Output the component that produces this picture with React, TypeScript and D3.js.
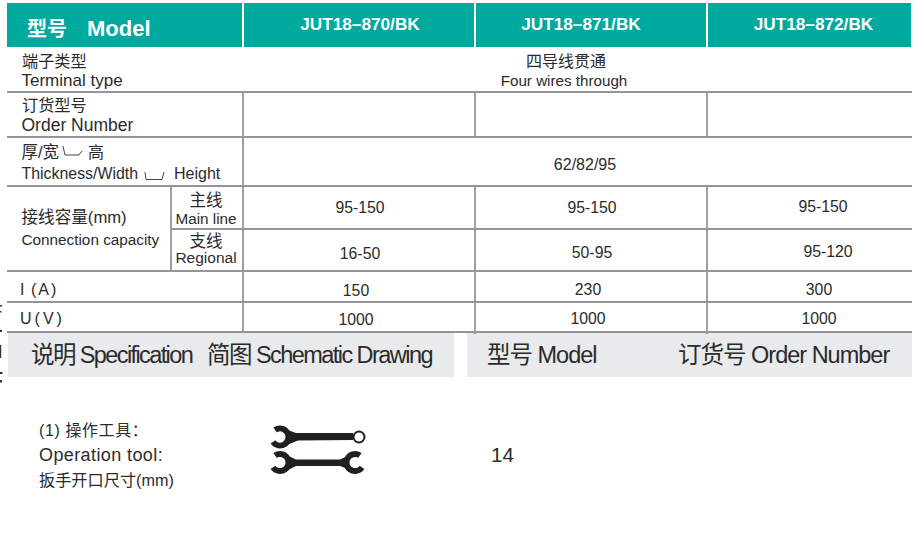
import * as d3 from 'd3'
import { useEffect, useRef } from 'react'

const TEAL = '#00a99d'
const LINE = '#949599'
const BAND = '#e9eaeb'
const INK = '#2b2b2b'
const SANS = '"Liberation Sans", "Noto Sans CJK SC", sans-serif'

const columns = ['JUT18-870/BK', 'JUT18-871/BK', 'JUT18-872/BK']
const mainLine = ['95-150', '95-150', '95-150']
const regional = ['16-50', '50-95', '95-120']
const current = ['150', '230', '300']
const voltage = ['1000', '1000', '1000']

const W = 917
const H = 539

type Label = [string, number, number, number, string?, string?, number?]

const App = () => {
  const svgRef = useRef(null) as any

  useEffect(() => {
    const svg = d3.select(svgRef.current)
    svg.selectAll('*').remove()

    const x = d3.scaleOrdinal<string, number>().domain(columns).range([244, 476, 708])
    const cx = d3.scaleOrdinal<string, number>().domain(columns).range([360, 588, 820])
    const headX = d3.scaleOrdinal<string, number>().domain(columns).range([360, 581, 813.5])

    // header
    const header: [number, number][] = [[7, 235], [244, 230], [476, 230], [708, 203]]
    svg.append('g').selectAll('rect').data(header).join('rect')
      .attr('x', d => d[0]).attr('y', 3).attr('width', d => d[1]).attr('height', 44)
      .attr('fill', TEAL)

    // grey bands
    svg.append('g').selectAll('rect').data([[8, 446], [467, 445]]).join('rect')
      .attr('x', d => d[0]).attr('y', 333).attr('width', d => d[1]).attr('height', 44)
      .attr('fill', BAND)

    // grid
    const hLines = [92, 137, 186, 271, 302, 332]
    const grid = svg.append('g').attr('stroke', LINE).attr('stroke-width', 1.8)
    grid.selectAll('.h').data(hLines).join('line').attr('class', 'h')
      .attr('x1', 7).attr('x2', 912).attr('y1', d => d).attr('y2', d => d)
    grid.append('line').attr('x1', 171).attr('x2', 912).attr('y1', 229).attr('y2', 229)
    grid.append('line').attr('x1', 171).attr('x2', 171).attr('y1', 186).attr('y2', 271)
    grid.append('line').attr('x1', 243).attr('x2', 243).attr('y1', 92).attr('y2', 333)
    const inner: [number, number, number][] = [
      [x(columns[1]) - 1, 92, 137], [x(columns[2]) - 1, 92, 137],
      [x(columns[1]) - 1, 186, 334], [x(columns[2]) - 1, 186, 334],
    ]
    grid.selectAll('.v').data(inner).join('line').attr('class', 'v')
      .attr('x1', d => d[0]).attr('x2', d => d[0]).attr('y1', d => d[1]).attr('y2', d => d[2])

    // clipped bits of the neighbouring page at the left edge
    const scraps: [number, number, number, number][] = [
      [0, 305, 2, 1.5], [0, 311, 1.5, 1.5], [0, 330, 2, 2], [0, 345, 1.2, 13],
      [0, 372, 2.5, 2], [0, 380, 2, 2.5],
    ]
    svg.append('g').selectAll('rect').data(scraps).join('rect')
      .attr('x', d => d[0]).attr('y', d => d[1]).attr('width', d => d[2]).attr('height', d => d[3])
      .attr('fill', '#333')

    // thickness brackets
    const bracket = d3.line()
    const brackets: [number, number][][] = [
      [[63, 146], [65, 155], [79, 155], [82, 151]],
      [[145, 172], [146, 179.5], [162, 179.5], [164, 172]],
    ]
    svg.append('g').selectAll('path').data(brackets).join('path')
      .attr('d', d => bracket(d))
      .attr('fill', 'none').attr('stroke', '#444').attr('stroke-width', 1)

    const labels: Label[] = [
      ['型号', 27, 36, 20, '#fff', '700'],
      ['Model', 87, 36, 22, '#fff', '700'],
      ['端子类型', 22, 67, 16.2],
      ['Terminal type', 21.5, 86, 17],
      ['订货型号', 22, 111, 16.2],
      ['Order Number', 21.5, 131, 17.5],
      ['厚/宽', 21.5, 158, 16.5],
      ['高', 88, 158, 16],
      ['Thickness/Width', 21.5, 179, 15.9],
      ['Height', 174, 179, 16],
      ['接线容量(mm)', 21.5, 223, 16.6],
      ['Connection capacity', 21.5, 245, 15.3],
      ['I', 20, 295, 16],
      ['(A)', 31, 295, 16, INK, '400', 2],
      ['U(V)', 20, 324, 16, INK, '400', 3],
      ['(1) 操作工具：', 39, 436, 16, INK, '400', 0.6],
      ['Operation tool:', 39, 461, 18, INK, '400', 0.4],
      ['扳手开口尺寸(mm)', 39, 486, 16.2],
      ['14', 491, 462, 20.5],
    ]
    svg.append('g').selectAll('text').data(labels).join('text')
      .attr('x', d => d[1]).attr('y', d => d[2])
      .attr('font-size', d => d[3])
      .attr('font-family', SANS)
      .attr('font-weight', d => d[5] ?? '400')
      .attr('letter-spacing', d => d[6] ?? 0)
      .attr('fill', d => d[4] ?? INK)
      .text(d => d[0])

    const centered: Label[] = [
      ['四导线贯通', 566, 67, 16],
      ['Four wires through', 564, 86, 15.2],
      ['62/82/95', 585, 170, 16],
      ['主线', 206, 206, 16.5],
      ['Main line', 206, 224, 15.3],
      ['支线', 206, 247, 16.5],
      ['Regional', 206, 263, 15.5],
    ]
    svg.append('g').selectAll('text').data(centered).join('text')
      .attr('x', d => d[1]).attr('y', d => d[2])
      .attr('font-size', d => d[3])
      .attr('font-family', SANS)
      .attr('text-anchor', 'middle')
      .attr('fill', INK)
      .text(d => d[0])

    // model names in the header
    svg.append('g').selectAll('text').data(columns).join('text')
      .attr('x', d => headX(d)).attr('y', 30)
      .attr('font-size', 17.2).attr('font-weight', 700)
      .attr('font-family', SANS).attr('text-anchor', 'middle').attr('fill', '#fff')
      .text(d => d.replace('-', '–'))

    // value rows
    const rows: [string[], number[], number[]][] = [
      [mainLine, [213, 213, 212], [0, 4, 3]],
      [regional, [259, 258, 257], [0, 4, 8]],
      [current, [296, 295, 295], [-4, 0, -1]],
      [voltage, [325, 324, 324], [-4, 0, -1]],
    ]
    rows.forEach(([vals, ys, dx]) => {
      svg.append('g').selectAll('text').data(vals).join('text')
        .attr('x', (_, i) => cx(columns[i]) + dx[i])
        .attr('y', (_, i) => ys[i])
        .attr('font-size', 15.8).attr('font-family', SANS)
        .attr('text-anchor', 'middle').attr('fill', INK)
        .text(d => d)
    })

    // band captions
    const captions: [string, number, number][] = [
      ['说明 Specification', 31, -1.6], ['简图 Schematic Drawing', 207, -1.55],
      ['型号 Model', 487, -1], ['订货号 Order Number', 678, -1],
    ]
    svg.append('g').selectAll('text').data(captions).join('text')
      .attr('x', d => d[1]).attr('y', 363)
      .attr('font-size', 23.5).attr('letter-spacing', d => d[2])
      .attr('font-family', SANS).attr('fill', INK)
      .text(d => d[0])

    // wrenches
    const g = svg.append('g').attr('fill', '#231f20')
    const shaft = d3.line()
    const shafts: [number, number][][] = [
      [[282, 428], [296, 433], [353, 433], [353, 440], [298, 440.5], [282, 447]],
      [[282, 453], [296, 459.5], [340, 459.5], [356, 452], [356, 472], [340, 466], [296, 466], [282, 473]],
    ]
    g.selectAll('.shaft').data(shafts).join('path').attr('class', 'shaft')
      .attr('d', d => shaft(d))
    const jaw = d3.arc()
    // [centre x, centre y, rotation]: the gap of each head faces outward
    const jaws: [number, number, number][] = [
      [280, 437, 10],
      [280, 462.5, 10],
      [355, 462.5, 170],
    ]
    g.selectAll('.jaw').data(jaws).join('path').attr('class', 'jaw')
      .attr('transform', d => `translate(${d[0]},${d[1]}) rotate(${d[2]})`)
      .attr('d', d => jaw({
        innerRadius: 5.5, outerRadius: 11.5,
        startAngle: -Math.PI * 0.25, endAngle: Math.PI * 1.25,
      } as any))
    // carve out the jaw mouths over the shaft ends
    g.selectAll('.mouth').data(jaws).join('circle').attr('class', 'mouth')
      .attr('cx', d => d[0]).attr('cy', d => d[1]).attr('r', 5.5).attr('fill', '#fff')
    g.append('circle').attr('cx', 359).attr('cy', 437).attr('r', 5.5)
      .attr('fill', '#fff').attr('stroke', '#231f20').attr('stroke-width', 2)
  }, [])

  return (
    <svg ref={svgRef} width={W} height={H}
      style={{ position: 'absolute', left: 0, top: 0, background: '#fff' }} />
  )
}

export default App
